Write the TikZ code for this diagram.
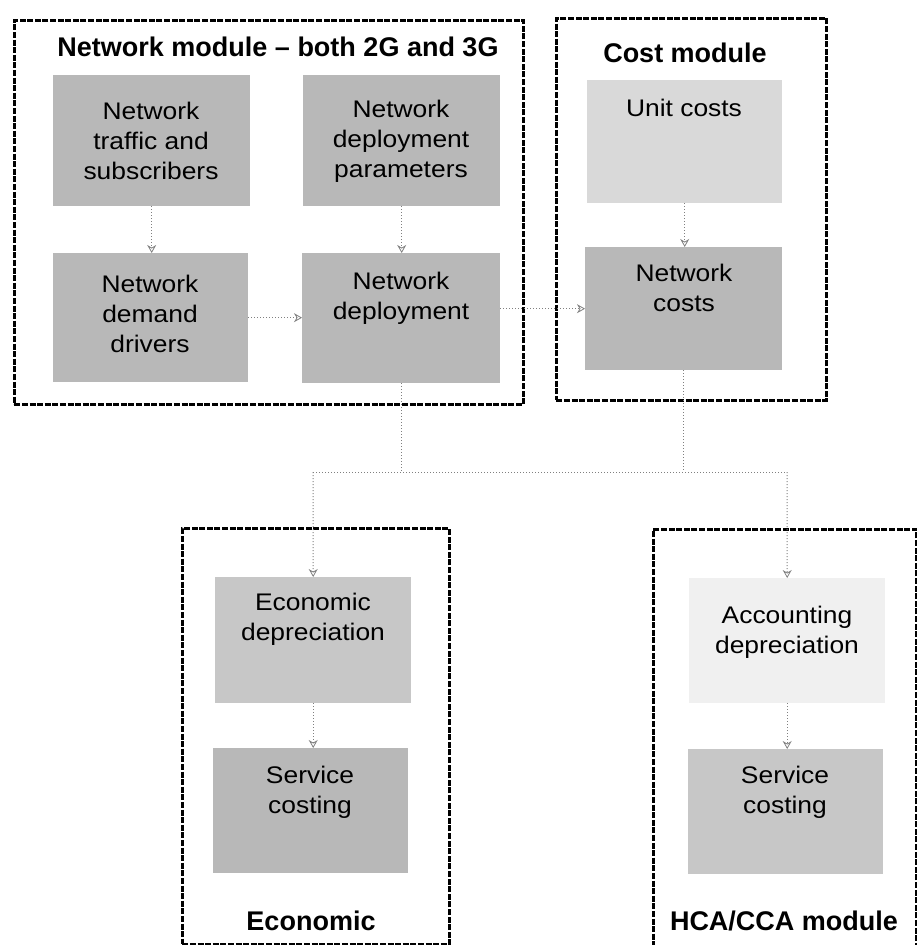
\documentclass[tikz,border=0pt]{standalone}
\usepackage{fontspec}
\setmainfont{Liberation Sans}
\newfontfamily\boxfontfamily[FakeStretch=1.1]{Liberation Sans}
\usetikzlibrary{arrows.meta,calc}

\newcommand\boxfont{\boxfontfamily\fontsize{24}{30}\selectfont}
\newcommand\titlefont{\bfseries\fontsize{27}{30}\selectfont}

\definecolor{shadeDark}{gray}{0.72}
\definecolor{shadeMid}{gray}{0.78}
\definecolor{shadeLight}{gray}{0.85}
\definecolor{shadePale}{gray}{0.94}
\definecolor{flowgray}{gray}{0.5}

\tikzset{
  module/.style={draw=black, line width=2.6pt, dash pattern=on 6pt off 1.6pt,
    anchor=north west, inner sep=0pt},
  procbox/.style={anchor=north west, inner sep=0pt, draw=none},
  boxtext/.style={align=center, font=\boxfont, inner sep=0pt},
  modtitle/.style={font=\titlefont, inner sep=0pt},
  flowline/.style={draw=flowgray, line width=1pt, dotted},
  flow/.style={flowline, -{Stealth[open, length=8pt, width=9pt, line width=0.8pt]}},
}

\begin{document}
\begin{tikzpicture}[x=1pt, y=-1pt]
\useasboundingbox (0,0) rectangle (917,945);

% module frames
\node[module, minimum width=509, minimum height=384] (netmod) at (13,19) {};
\node[module, minimum width=270, minimum height=382] (costmod) at (555,17) {};
\node[module, minimum width=267, minimum height=416] (econmod) at (181,527) {};
\node[module, minimum width=263, minimum height=430] (hcamod) at (652,528) {};

% module titles
\node[modtitle] (nettitle) at (278,47) {Network module -- both 2G and 3G};
\node[modtitle] (costtitle) at (685,53) {Cost module};
\node[modtitle] (econtitle) at (311,921) {Economic};
\node[modtitle] (hcatitle) at (784,921) {HCA/CCA module};

% shaded process boxes
\node[procbox, fill=shadeDark, minimum width=197, minimum height=131] (traffic) at (53,75) {};
\node[procbox, fill=shadeDark, minimum width=197, minimum height=131] (params) at (303,75) {};
\node[procbox, fill=shadeDark, minimum width=195, minimum height=129] (drivers) at (53,253) {};
\node[procbox, fill=shadeDark, minimum width=198, minimum height=130] (deploy) at (302,253) {};
\node[procbox, fill=shadeLight, minimum width=195, minimum height=123] (unit) at (587,80) {};
\node[procbox, fill=shadeDark, minimum width=197, minimum height=123] (netcost) at (585,247) {};
\node[procbox, fill=shadeMid, minimum width=196, minimum height=126] (econdep) at (215,577) {};
\node[procbox, fill=shadeDark, minimum width=195, minimum height=125] (econsvc) at (213,748) {};
\node[procbox, fill=shadePale, minimum width=196, minimum height=125] (accdep) at (689,578) {};
\node[procbox, fill=shadeMid, minimum width=195, minimum height=125] (hcasvc) at (688,749) {};

% box labels
\node[boxtext] (traffic-t) at (151,141) {Network\\traffic and\\subscribers};
\node[boxtext] (params-t) at (401,141) {Network\\deployment\\parameters};
\node[boxtext] (drivers-t) at (150,314) {Network\\demand\\drivers};
\node[boxtext] (deploy-t) at (401,298) {Network\\deployment};
\node[boxtext] (unit-t) at (684,108) {Unit costs};
\node[boxtext] (netcost-t) at (684,288) {Network\\costs};
\node[boxtext] (econdep-t) at (313,619) {Economic\\depreciation};
\node[boxtext] (econsvc-t) at (310,792) {Service\\costing};
\node[boxtext] (accdep-t) at (787,632) {Accounting\\depreciation};
\node[boxtext] (hcasvc-t) at (785,792) {Service\\costing};

% junction of the two cost streams
\coordinate (jl) at (313,472);
\coordinate (jr) at (787,472);

% flows inside the network module
\draw[flow] (traffic.south) -- (traffic.south |- drivers.north);
\draw[flow] (params.south) -- (params.south |- deploy.north);
\draw[flow] (drivers.east) -- (drivers.east -| deploy.west);

% flows into the cost module
\draw[flow] (deploy.east |- netcost.west) -- (netcost.west);
\draw[flow] (unit.south) -- (unit.south |- netcost.north);

% flows down to the depreciation modules
\draw[flowline] (deploy.south) -- (deploy.south |- jl);
\draw[flowline] (netcost.south) -- (netcost.south |- jr);
\draw[flowline] (jl) -- (jr);
\draw[flow] (jl) -- (econdep.north);
\draw[flow] (jr) -- (accdep.north);
\draw[flow] (econdep.south) -- (econdep.south |- econsvc.north);
\draw[flow] (accdep.south) -- (accdep.south |- hcasvc.north);
\end{tikzpicture}
\end{document}
